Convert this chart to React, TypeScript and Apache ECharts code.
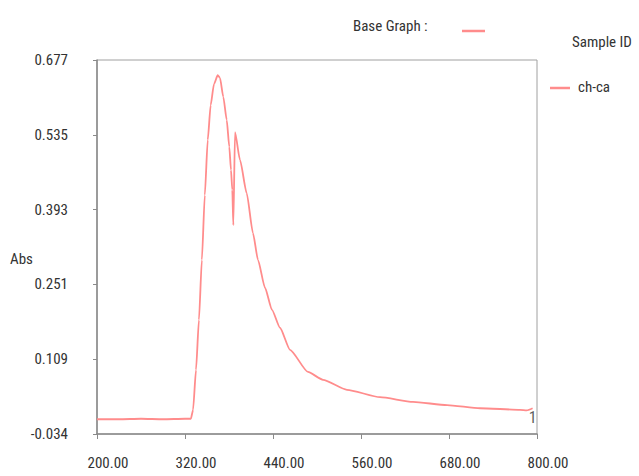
import React, { useEffect, useRef } from "react";
import * as echarts from "echarts";

// Absorption spectrum of sample "ch-ca"
const wavelengths = [
  200, 230, 260, 290, 320, 328, 331, 335, 339, 343, 347, 351, 355, 359.5, 364.6,
  367.7, 372.2, 376.9, 380.4, 382.7, 384.5, 385.9, 388.2, 395, 404.1, 412.7,
  419.5, 429.1, 438.6, 449.5, 463.2, 487.7, 508.2, 540.9, 585.9, 630.9, 677.3,
  722.3, 776.8, 786, 794,
];
const absorbance = [
  -0.006, -0.006, -0.005, -0.006, -0.005, -0.005, 0.012, 0.088, 0.183, 0.297,
  0.42, 0.525, 0.591, 0.631, 0.648, 0.643, 0.607, 0.563, 0.512, 0.468, 0.43,
  0.363, 0.54, 0.487, 0.424, 0.348, 0.297, 0.244, 0.202, 0.168, 0.126, 0.084,
  0.069, 0.05, 0.036, 0.027, 0.021, 0.015, 0.012, 0.011, 0.015,
];
const yTickLabels = ["-0.034", "0.109", "0.251", "0.393", "0.535", "0.677"];
const xTickValues = [200, 320, 440, 560, 680, 800];
const sampleName = "ch-ca";
const curveTag = "1";

const LINE_COLOR = "#ff8c8c";
const TEXT_COLOR = "#333333";
const FONT = "'Roboto Condensed', 'Liberation Sans', Arial, sans-serif";
const FONT_SIZE = 15;

export default function App() {
  const ref = useRef<HTMLDivElement>(null);

  useEffect(() => {
    if (!ref.current) return;
    const chart = echarts.init(ref.current, undefined, { renderer: "svg" });

    const yMin = -0.034;
    const yMax = 0.677;
    const yStep = (yMax - yMin) / (yTickLabels.length - 1);

    const points = wavelengths.map((w, i) => [w, absorbance[i]]);
    const endPoint = points[points.length - 1];

    const text = (s: string, left: number, top: number) => ({
      type: "text",
      left,
      top,
      style: { text: s, fill: TEXT_COLOR, fontSize: FONT_SIZE, fontFamily: FONT },
    });

    chart.setOption({
      animation: false,
      backgroundColor: "#ffffff",
      grid: {
        left: 97,
        right: 102,
        top: 60,
        bottom: 42,
        show: true,
        borderColor: "#a0a0a0",
        borderWidth: 1,
        backgroundColor: "transparent",
      },
      xAxis: {
        type: "value",
        min: xTickValues[0],
        max: xTickValues[xTickValues.length - 1],
        interval: 120,
        axisLine: {
          show: true,
          onZero: false,
          lineStyle: { color: "#8a8a8a", width: 1.5 },
        },
        axisTick: { show: true, length: 5, lineStyle: { color: "#8a8a8a" } },
        splitLine: { show: false },
        axisLabel: {
          color: TEXT_COLOR,
          fontSize: FONT_SIZE,
          fontFamily: FONT,
          margin: 21,
          padding: [0, 0, 0, 22],
          formatter: (v: number) => v.toFixed(2),
        },
      },
      yAxis: {
        type: "value",
        min: yMin,
        max: yMax,
        interval: yStep,
        axisLine: {
          show: true,
          onZero: false,
          lineStyle: { color: "#8a8a8a", width: 1.5 },
        },
        axisTick: { show: true, length: 4, lineStyle: { color: "#8a8a8a" } },
        splitLine: { show: false },
        axisLabel: {
          color: TEXT_COLOR,
          fontSize: FONT_SIZE,
          fontFamily: FONT,
          margin: 29,
          formatter: (_v: number, i: number) => yTickLabels[i] ?? "",
        },
      },
      series: [
        {
          type: "line",
          data: points,
          showSymbol: false,
          symbol: "none",
          smooth: 0.2,
          smoothMonotone: "x",
          lineStyle: { color: LINE_COLOR, width: 1.8 },
          itemStyle: { color: LINE_COLOR },
        },
        {
          // curve index tag at the end of the trace
          type: "scatter",
          data: [endPoint],
          symbolSize: 1,
          itemStyle: { color: "rgba(0,0,0,0)" },
          silent: true,
          label: {
            show: true,
            formatter: curveTag,
            position: "bottom",
            distance: 1,
            color: TEXT_COLOR,
            fontSize: 16,
            fontFamily: FONT,
          },
        },
      ],
      graphic: [
        text("Abs", 10, 251),
        text("Base Graph :", 353, 18),
        {
          type: "line",
          shape: { x1: 462, y1: 31, x2: 485, y2: 31 },
          style: { stroke: LINE_COLOR, lineWidth: 2.5 },
        },
        text("Sample ID", 572, 34),
        {
          type: "line",
          shape: { x1: 550, y1: 88, x2: 570, y2: 88 },
          style: { stroke: LINE_COLOR, lineWidth: 2.5 },
        },
        text(sampleName, 578, 79),
      ],
    });

    return () => chart.dispose();
  }, []);

  return (
    <div
      ref={ref}
      style={{ width: 639, height: 476, position: "absolute", left: 0, top: 0 }}
    />
  );
}
